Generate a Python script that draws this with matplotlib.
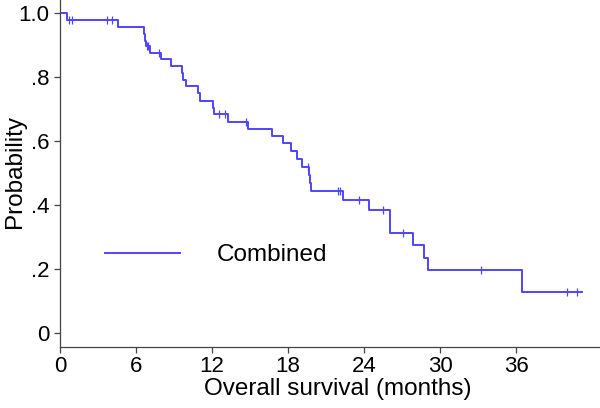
import numpy as np
import matplotlib
matplotlib.use("Agg")
import matplotlib.pyplot as plt

plt.rcParams['font.family'] = ['Liberation Sans', 'DejaVu Sans']

# Kaplan-Meier steps (months, survival after the step)
step_months = [0.58, 4.55, 6.6, 6.68, 6.78, 7.1, 7.97, 8.8, 9.6, 9.73, 9.92,
               10.92, 11.05, 12.05, 12.18, 13.29, 14.86, 16.7, 17.62, 18.2,
               18.73, 19.13, 19.68, 19.74, 19.8, 22.36, 24.4, 26.05, 27.9,
               28.73, 29.07, 36.5]
step_surv = [0.98, 0.958, 0.936, 0.915, 0.897, 0.877, 0.857, 0.835, 0.8125,
             0.792, 0.773, 0.75, 0.727, 0.705, 0.685, 0.661, 0.638, 0.617,
             0.594, 0.57, 0.544, 0.52, 0.496, 0.471, 0.446, 0.417, 0.385,
             0.314, 0.275, 0.236, 0.197, 0.13]
last_month = 41.2
censor_months = [0.71, 0.92, 3.68, 4.08, 6.85, 6.95, 7.84, 12.58, 13.02, 14.68,
                 19.6, 21.97, 22.1, 23.6, 25.5, 27.1, 33.2, 40.0, 40.8]

x_ticks = [0, 6, 12, 18, 24, 30, 36]
y_ticks = [0, 0.2, 0.4, 0.6, 0.8, 1.0]
y_labels = ['0', '.2', '.4', '.6', '.8', '1.0']

blue = '#4f45ff'
W, H = 600, 408
# axes box in pixels: left 60, bottom spine at 347, top at 0
fig = plt.figure(figsize=(W / 100, H / 100), dpi=100)
ax = fig.add_axes([60 / W, (H - 347) / H, 540 / W, 347 / H])

xs = [0] + step_months + [last_month]
ys = [1.0] + step_surv + [step_surv[-1]]
ax.step(xs, ys, where='post', color=blue, lw=1.4, label='Combined')

surv_full = np.array([1.0] + step_surv)
idx = np.searchsorted(step_months, censor_months, side='right')
cy = surv_full[idx]
ax.scatter(censor_months, cy, marker='|', s=32, color=blue, lw=0.9, zorder=3)

ax.set_xlim(0, 540 / 12.667)
ax.set_ylim(-13.7 / 320, 1.0 + 13.3 / 320)
ax.set_xticks(x_ticks)
ax.set_yticks(y_ticks)
ax.set_yticklabels(y_labels)

for s in ['top', 'right']:
    ax.spines[s].set_visible(False)
for s in ['left', 'bottom']:
    ax.spines[s].set_color('#444444')
    ax.spines[s].set_linewidth(0.9)
ax.tick_params(direction='out', length=4.5, width=0.9, color='#444444',
               labelsize=16, pad=2)
ax.tick_params(axis='y', pad=3)

ax.set_xlabel('Overall survival (months)', fontsize=17.5)
ax.xaxis.set_label_coords(0.515, -31 / 347)
ax.set_ylabel('Probability', fontsize=17.5)
ax.yaxis.set_label_coords(-34 / 540, 0.5 - (171 - 173.5) / 347)

ax.legend(loc='center left', bbox_to_anchor=(105 / W, (H - 255) / H),
          bbox_transform=fig.transFigure, frameon=False, borderpad=0,
          borderaxespad=0, fontsize=17.5, handlelength=3.1, handletextpad=1.5)

fig.savefig('out.png', dpi=100)
